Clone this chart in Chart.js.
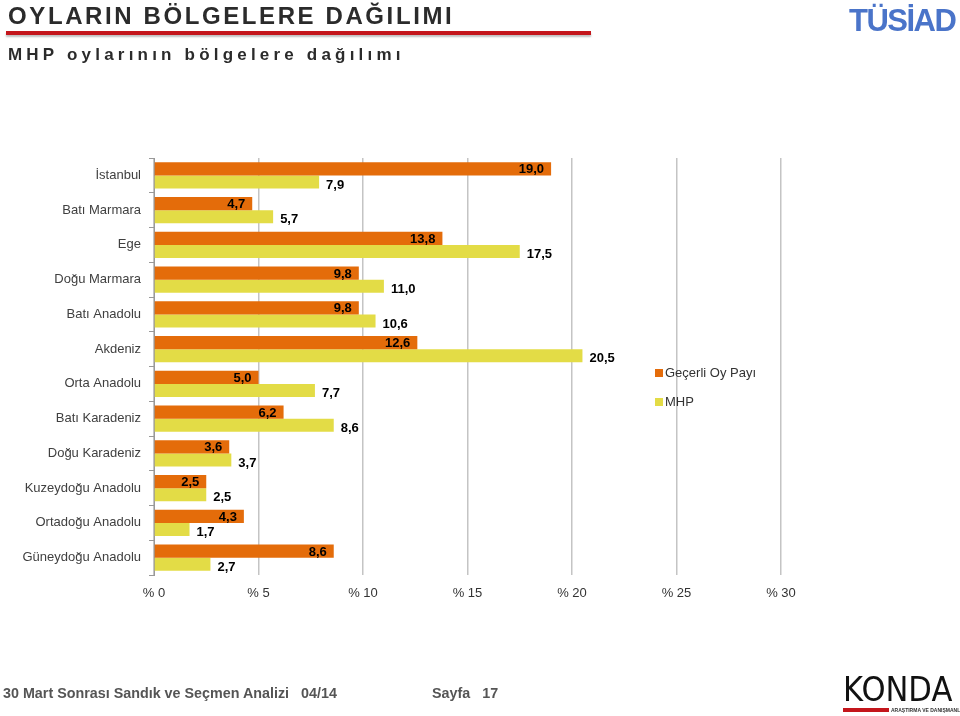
<!DOCTYPE html>
<html>
<head>
<meta charset="utf-8">
<script src="https://cdn.jsdelivr.net/npm/chart.js@4.4.1/dist/chart.umd.min.js"></script>
<style>
  body { margin: 0; background: #fff; }
  #page { position: relative; width: 960px; height: 716px; overflow: hidden; font-family: "Liberation Sans", Arial, sans-serif; }
  #page canvas { position: absolute; left: 0; top: 0; }
  .abs { position: absolute; white-space: nowrap; }
  .title { left: 8px; top: 2px; font: bold 24px "Liberation Sans", sans-serif; letter-spacing: 2.6px; color: #2b2b2b; }
  .redline { left: 6px; top: 31px; width: 585px; height: 4px; background: #c4161c; box-shadow: 0 2px 2px rgba(0,0,0,0.25); }
  .subtitle { left: 8px; top: 45px; font: bold 17px "Liberation Sans", sans-serif; letter-spacing: 4.2px; color: #2b2b2b; }
  .tusiad { left: 849px; top: 3px; font: bold 31px "Liberation Sans Narrow", sans-serif; letter-spacing: -1.5px; color: #4a74c9; }
  .legend { left: 655px; font: 13px "Liberation Sans", sans-serif; color: #333; }
  .legend span { display: inline-block; width: 8px; height: 8px; margin-right: 2px; }
  .footer { top: 684px; font: bold 15px "Liberation Sans", sans-serif; color: #555; transform: scaleX(0.955); transform-origin: left; }
  .konda { left: 843px; top: 669px; font: 34px "DejaVu Sans", sans-serif; letter-spacing: 0px; color: #111; transform: scaleX(0.9); transform-origin: left; }
  .kbar { left: 843px; top: 708px; width: 46px; height: 4px; background: #c4161c; }
  .ktext { left: 891px; top: 707px; font: bold 5px "Liberation Sans", sans-serif; color: #333; }
</style>
</head>
<body>
<div id="page">
  <canvas id="chart" width="960" height="716"></canvas>
  <div class="abs title">OYLARIN BÖLGELERE DAĞILIMI</div>
  <div class="abs redline"></div>
  <div class="abs subtitle">MHP oylarının bölgelere dağılımı</div>
  <div class="abs tusiad">TÜSİAD</div>
  <div class="abs legend" style="top:365px"><span style="background:#e46c0a"></span>Geçerli Oy Payı</div>
  <div class="abs legend" style="top:394px"><span style="background:#e3dc46"></span>MHP</div>
  <div class="abs footer" style="left:3px">30 Mart Sonrası Sandık ve Seçmen Analizi&nbsp;&nbsp;&nbsp;04/14</div>
  <div class="abs footer" style="left:432px">Sayfa&nbsp;&nbsp;&nbsp;17</div>
  <div class="abs konda">KONDA</div>
  <div class="abs kbar"></div>
  <div class="abs ktext">ARAŞTIRMA VE DANIŞMANLIK</div>
</div>
<script>
// bölgeler ve oranlar (%)
const regions = ['İstanbul', 'Batı Marmara', 'Ege', 'Doğu Marmara', 'Batı Anadolu', 'Akdeniz',
  'Orta Anadolu', 'Batı Karadeniz', 'Doğu Karadeniz', 'Kuzeydoğu Anadolu', 'Ortadoğu Anadolu', 'Güneydoğu Anadolu'];
const gecerliOyPayi = [19.0, 4.7, 13.8, 9.8, 9.8, 12.6, 5.0, 6.2, 3.6, 2.5, 4.3, 8.6];
const mhpPayi = [7.9, 5.7, 17.5, 11.0, 10.6, 20.5, 7.7, 8.6, 3.7, 2.5, 1.7, 2.7];
const xTicks = [0, 5, 10, 15, 20, 25, 30];

// değer etiketleri: turuncu çubukta içeride, sarıda dışarıda
const barLabels = {
  id: 'barLabels',
  afterDatasetsDraw(chart) {
    const ctx = chart.ctx;
    ctx.save();
    ctx.font = 'bold 13px "Liberation Sans", sans-serif';
    ctx.fillStyle = '#000';
    ctx.textBaseline = 'middle';
    chart.data.datasets.forEach((ds, i) => {
      chart.getDatasetMeta(i).data.forEach((bar, j) => {
        const txt = ds.data[j].toFixed(1).replace('.', ',');
        if (i === 0) {
          ctx.textAlign = 'right';
          ctx.fillText(txt, bar.x - 7, bar.y + 1);
        } else {
          ctx.textAlign = 'left';
          ctx.fillText(txt, bar.x + 7, bar.y + 3);
        }
      });
    });
    ctx.restore();
  }
};

new Chart(document.getElementById('chart'), {
  type: 'bar',
  data: {
    labels: regions,
    datasets: [
      { label: 'Geçerli Oy Payı', data: gecerliOyPayi, backgroundColor: '#e46c0a' },
      { label: 'MHP', data: mhpPayi, backgroundColor: '#e3dc46' }
    ]
  },
  options: {
    indexAxis: 'y',
    responsive: false,
    animation: false,
    layout: { padding: { left: 0, top: 158, right: 179, bottom: 100 } },
    datasets: { bar: { categoryPercentage: 0.76, barPercentage: 1.0 } },
    plugins: { legend: { display: false }, tooltip: { enabled: false } },
    scales: {
      x: {
        min: 0, max: 30,
        afterBuildTicks: s => { s.ticks = xTicks.map(v => ({ value: v })); },
        afterFit: s => { s.height = 41; },
        grid: { color: '#c4c4c4', lineWidth: 1.5, drawTicks: false },
        border: { display: false },
        ticks: { padding: 11, color: '#333', font: { size: 13, family: '"Liberation Sans", sans-serif' },
          callback: v => '% ' + v }
      },
      y: {
        afterFit: s => { s.width = 154; },
        grid: { drawOnChartArea: false, tickLength: 5, color: '#999' },
        border: { display: true, color: '#999' },
        ticks: { padding: 8, color: '#404040', font: { size: 13, family: '"Liberation Sans", sans-serif' } }
      }
    }
  },
  plugins: [barLabels]
});
</script>
</body>
</html>
